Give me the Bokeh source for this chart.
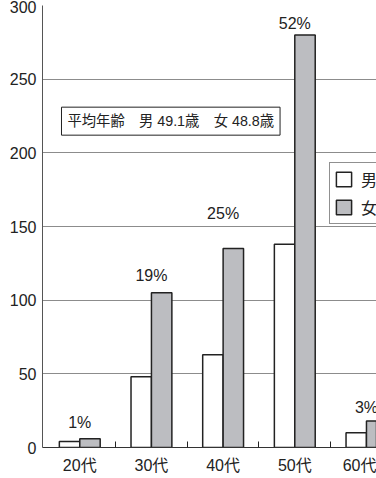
from bokeh.plotting import figure
from bokeh.models import (Range1d, FixedTicker, Legend, LegendItem, Label,
                          ColumnDataSource)
from bokeh.transform import dodge
from bokeh.embed import file_html
from bokeh.resources import INLINE

# Age groups and head counts by sex
categories = ["20代", "30代", "40代", "50代", "60代"]
male = [4, 48, 63, 138, 10]
female = [6, 105, 135, 280, 18]
share_labels = ["1%", "19%", "25%", "52%", "3%"]
y_ticks = [0, 50, 100, 150, 200, 250, 300]
avg_age_male = 49.1
avg_age_female = 48.8

# Styling
FONT = "Liberation Sans, Noto Sans CJK JP"
INK = "#222222"
FEMALE_FILL = "#bcbdc1"
BAR_W = 0.285
label_lift_px = [16, 17, 35, 11, 13]

idx = list(range(len(categories)))
src = ColumnDataSource(dict(
    x=idx,
    male=male,
    female=female,
    top=[max(m, f) for m, f in zip(male, female)],
    label=share_labels,
    lift=[-v for v in label_lift_px],
))

p = figure(width=376, height=478,
           x_range=Range1d(-0.52, 4.14), y_range=Range1d(0, 300),
           output_backend="svg", toolbar_location=None,
           min_border_left=42, min_border_right=0,
           min_border_top=5, min_border_bottom=31)
p.outline_line_color = None
p.background_fill_color = "white"
p.border_fill_color = "white"

r_m = p.vbar(x=dodge("x", -BAR_W / 2), top="male", width=BAR_W, bottom=0,
             source=src, fill_color="white", line_color=INK, line_width=1.5)
r_f = p.vbar(x=dodge("x", BAR_W / 2), top="female", width=BAR_W, bottom=0,
             source=src, fill_color=FEMALE_FILL, line_color=INK, line_width=1.5)

p.text(x="x", y="top", text="label", source=src, y_offset="lift",
       text_align="center", text_baseline="middle",
       text_font_size="16px", text_color=INK,
       text_font={"value": FONT})

# Axes
xa = p.xaxis[0]
xa.ticker = FixedTicker(ticks=idx, minor_ticks=[i + 0.5 for i in idx[:-1]])
xa.major_label_overrides = {i: c for i, c in zip(idx, categories)}
xa.major_tick_line_color = None
xa.minor_tick_in = 6
xa.minor_tick_out = 0
xa.minor_tick_line_color = INK
xa.axis_line_color = "#333333"
xa.axis_line_width = 1.2
xa.major_label_text_font = FONT
xa.major_label_text_font_size = "16px"
xa.major_label_text_color = INK
xa.major_label_standoff = 3

ya = p.yaxis[0]
ya.ticker = FixedTicker(ticks=y_ticks)
ya.major_tick_in = 0
ya.major_tick_out = 0
ya.minor_tick_line_color = None
ya.axis_line_color = "#555555"
ya.major_label_text_font = FONT
ya.major_label_text_font_size = "16px"
ya.major_label_text_color = INK
ya.major_label_standoff = 6

p.xgrid.grid_line_color = None
p.ygrid.ticker = FixedTicker(ticks=y_ticks)
p.ygrid.grid_line_color = "#8c8c8c"
p.ygrid.grid_line_width = 1

# Legend
legend = Legend(items=[LegendItem(label="男", renderers=[r_m]),
                       LegendItem(label="女", renderers=[r_f])],
                location=(287, 223), orientation="vertical",
                glyph_width=19, glyph_height=18, label_height=18,
                spacing=4, padding=4, margin=0, label_standoff=8,
                label_text_font=FONT, label_text_font_size="16px",
                label_text_color=INK,
                border_line_color=INK, border_line_width=1,
                background_fill_color="white", background_fill_alpha=1)
p.add_layout(legend)

# Average-age note
note = Label(x=-0.255, y=221.5,
             text=f"平均年齢　男 {avg_age_male}歳　女 {avg_age_female}歳",
             text_font=FONT, text_font_size="14.3px", text_color=INK,
             text_align="left", text_baseline="middle",
             border_line_color=INK, border_line_width=1,
             background_fill_color="white", padding=6)
p.add_layout(note)

open("out.html", "w").write(file_html(p, INLINE))
